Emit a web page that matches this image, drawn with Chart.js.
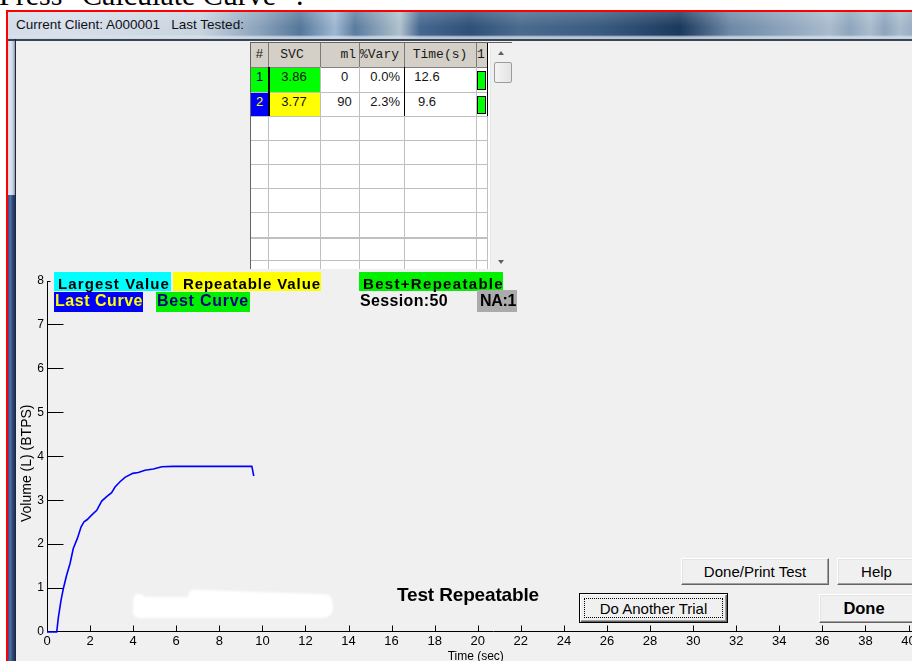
<!DOCTYPE html>
<html>
<head>
<meta charset="utf-8">
<title>SVC Trial</title>
<script src="https://cdn.jsdelivr.net/npm/chart.js@4.4.1/dist/chart.umd.min.js"></script>
<style>
  html, body { margin: 0; padding: 0; }
  body { width: 912px; height: 661px; overflow: hidden; position: relative; background: #fff;
         font-family: "Liberation Sans", Arial, sans-serif; color: #000; }
  .a { position: absolute; box-sizing: border-box; }
  #caption { left: -1px; top: -20px; font: 30px/30px "Liberation Serif", "Times New Roman", serif; white-space: pre; }
  #redTop { left: 6px; top: 10px; width: 906px; height: 2px; background: #ff0000; }
  #redLeft { left: 6px; top: 10px; width: 2px; height: 651px; background: #ff0000; }
  #titlebar { left: 8px; top: 12px; width: 904px; height: 27px;
    background:
      linear-gradient(180deg, rgba(255,255,255,.16) 0, rgba(255,255,255,0) 55%, rgba(255,255,255,0) 85%, rgba(220,230,240,.75) 92%, rgba(200,212,224,.9) 100%),
      linear-gradient(90deg, #d3dce8 0px, #d8e0ea 52px, #c9d4e0 192px, #8aa2bb 252px, #56779a 292px,
        #9fb8d2 327px, #5b7c9f 347px, #b0c2cc 392px, #466790 412px, #2f5078 462px, #4b6b8e 512px,
        #3a5b80 592px, #1b395d 672px, #6e89a6 722px, #8aa2ba 772px, #a9bccd 822px, #8ea5bc 842px,
        #aabdce 862px, #8ea5bc 877px, #a9bccd 892px, #98aec4 904px); }
  #titleText { left: 16px; top: 17px; font-size: 13.5px; line-height: 16px; color: #101018; white-space: pre; }
  #titleEdge { left: 8px; top: 39px; width: 904px; height: 2px; background: #3b4553; }
  #frameTop { left: 8px; top: 39px; width: 7px; height: 156px;
    background: linear-gradient(90deg, #c9d5e3 0, #e2e9f1 30%, #c6d2e0 70%, #8796b2 100%); }
  #frameLow { left: 8px; top: 195px; width: 7px; height: 466px;
    background: linear-gradient(90deg, #35528a 0, #4f6ea4 35%, #2c4a80 65%, #1e3258 100%); }
  #frameLine { left: 15px; top: 39px; width: 1px; height: 622px; background: #1f2838; }
  #content { left: 16px; top: 41px; width: 896px; height: 620px; background: #f0f0f0; }

  #grid { left: 250px; top: 42px; width: 262px; height: 227px; background: #fff; overflow: hidden;
          border-top: 1px solid #646464; border-left: 1px solid #646464; }
  #grid .c { position: absolute; box-sizing: border-box; white-space: pre; }
  #grid .hd { font: 13px "Liberation Mono", "Courier New", monospace; color: #1a1a1a; }
  #grid .dt { font: 13px "Liberation Sans", Arial, sans-serif; color: #151515; }

  .lg { position: absolute; box-sizing: border-box; font-weight: bold; white-space: pre; overflow: visible; }
  .lg span { display: inline-block; }
  .row1 { font-size: 15px; line-height: 19px; height: 19px; padding-top: 2px; }
  .row2 { font-size: 16px; line-height: 18.5px; height: 20px; }

  .btn { position: absolute; box-sizing: border-box; background: #f0f0f0; display: flex; align-items: center;
         justify-content: center; font-size: 15px; white-space: pre;
         border-top: 1px solid #ffffff; border-left: 1px solid #ffffff;
         border-bottom: 1px solid #646464; border-right: 1px solid #646464;
         box-shadow: inset -1px -1px 0 #a0a0a0, inset 1px 1px 0 #e3e3e3; }
  .btn.default { border: 1px solid #000;
         box-shadow: inset 1px 1px 0 #ffffff, inset -1px -1px 0 #646464, inset -2px -2px 0 #a0a0a0; }
  .btn.default::after { content: ""; position: absolute; left: 4px; top: 4px; right: 4px; bottom: 4px;
         border: 1px dotted #000; }
  #status { left: 397px; top: 584px; font: bold 19px/22px "Liberation Sans", Arial, sans-serif; white-space: pre; }
  #chartBox { left: 0; top: 260px; width: 940px; height: 401px; }
  .blot { position: absolute; background: #fff; filter: blur(0.9px); }
</style>
</head>
<body>
<div id="caption" class="a">Press "Calculate Curve" .</div>
<div id="redTop" class="a"></div>
<div id="redLeft" class="a"></div>
<div id="titlebar" class="a"></div>
<div id="titleText" class="a">Current Client: A000001   Last Tested:</div>
<div id="content" class="a"></div>
<div id="frameTop" class="a"></div>
<div id="frameLow" class="a"></div>
<div id="titleEdge" class="a"></div>
<div id="frameLine" class="a"></div>

<div id="chartBox" class="a"><canvas id="svcChart" width="940" height="401"></canvas></div>

<div id="grid" class="a"></div>

<div class="lg row1" style="left:54px;top:272px;width:117px;background:#00ffff;padding-left:4px;"><span data-w="112">Largest Value</span></div>
<div class="lg row1" style="left:173px;top:272px;width:148px;background:#ffff00;padding-left:10px;"><span data-w="138">Repeatable Value</span></div>
<div class="lg row1" style="left:359px;top:272px;width:144px;background:#00f000;padding-left:4px;"><span data-w="141">Best+Repeatable</span></div>
<div class="lg row2" style="left:54px;top:292px;width:89px;background:#0000ff;color:#ffff00;padding-left:1px;"><span data-w="88">Last Curve</span></div>
<div class="lg row2" style="left:156px;top:292px;width:94px;background:#00f000;color:#000080;padding-left:1px;"><span data-w="92">Best Curve</span></div>
<div class="lg row2" style="left:360px;top:292px;"><span data-w="88">Session:50</span></div>
<div class="lg" style="left:477px;top:290px;width:40px;height:22px;background:#ababab;font-size:16px;line-height:22px;padding-left:3px;"><span data-w="36">NA:1</span></div>

<div class="blot" style="left:133px;top:597px;width:200px;height:21px;border-radius:6px 10px 10px 6px;"></div>
<div class="blot" style="left:188px;top:592px;width:144px;height:12px;border-radius:6px;transform:rotate(2deg);"></div>
<div class="blot" style="left:134px;top:594px;width:10px;height:8px;border-radius:4px;"></div>

<div id="status" class="a"><span data-w="142">Test Repeatable</span></div>

<div class="btn" style="left:681px;top:558px;width:148px;height:27px;">Done/Print Test</div>
<div class="btn" style="left:837px;top:558px;width:79px;height:27px;">Help</div>
<div class="btn default" style="left:579px;top:593px;width:149px;height:30px;">Do Another Trial</div>
<div class="btn" style="left:819px;top:594px;width:96px;height:29px;padding-right:6px;font-weight:bold;font-size:16.5px;">Done</div>

<script>
// Trial results table
const tableHeaders = ['#', 'SVC', 'ml', '%Vary', 'Time(s)', '1'];
const trialNumbers = ['1', '2'];
const trialSVC = ['3.86', '3.77'];
const trialML = ['0', '90'];
const trialVary = ['0.0%', '2.3%'];
const trialTime = ['12.6', '9.6'];

// Last curve: exhaled volume (L, BTPS) against time (s)
const curveTime = [0, 0.45, 0.53, 0.65, 0.76, 0.91, 1.07, 1.22, 1.41, 1.58, 1.72, 1.87, 2.07, 2.31,
  2.54, 2.77, 3.00, 3.16, 3.39, 3.62, 3.98, 4.24, 4.55, 4.94, 5.33, 5.87, 9.51, 9.54, 9.6];
const curveVolume = [0, 0, 0.34, 0.72, 0.99, 1.29, 1.56, 1.90, 2.13, 2.39, 2.51, 2.56, 2.66, 2.77,
  2.98, 3.08, 3.17, 3.30, 3.42, 3.52, 3.61, 3.63, 3.68, 3.71, 3.76, 3.77, 3.77, 3.70, 3.55];

// Axis ticks
const timeTicks = [0, 2, 4, 6, 8, 10, 12, 14, 16, 18, 20, 22, 24, 26, 28, 30, 32, 34, 36, 38, 40];
const volumeTicks = [0, 1, 2, 3, 4, 5, 6, 7, 8];

// ---------- table ----------
(function buildGrid() {
  const grid = document.getElementById('grid');
  const colX = [0, 17, 69, 108, 153, 225, 236];
  const rowY = [0, 24, 49, 73, 97, 121, 145, 169, 194, 217, 241];
  const add = (cls, css, text) => {
    const d = document.createElement('div');
    d.className = 'c ' + (cls || '');
    d.style.cssText = css;
    if (text !== undefined) d.textContent = text;
    grid.appendChild(d);
    return d;
  };
  // header band
  add('', `left:0;top:0;width:${colX[6]}px;height:${rowY[1]}px;background:#d4d0c8;`);
  // colored cells of the trial rows
  const numBg = ['#00ff00', '#0000ff'], numFg = ['#000080', '#ffff00'], svcBg = ['#00ff00', '#ffff00'];
  trialNumbers.forEach((n, i) => {
    const t = rowY[i + 1], h = rowY[i + 2] - t;
    add('', `left:${colX[0]}px;top:${t}px;width:${colX[1] - colX[0]}px;height:${h}px;background:${numBg[i]};`);
    add('', `left:${colX[1]}px;top:${t}px;width:${colX[2] - colX[1]}px;height:${h}px;background:${svcBg[i]};`);
  });
  // grid lines
  rowY.forEach((y, i) => {
    if (i === 0) return;
    add('', `left:0;top:${y}px;width:${colX[6]}px;height:${i === 8 ? 2 : 1}px;background:${i === 1 ? '#808080' : '#c0c0c0'};`);
  });
  colX.forEach((x, i) => {
    if (i === 0) return;
    add('', `left:${x}px;top:${rowY[1]}px;width:1px;height:250px;background:#c0c0c0;`);
    add('', `left:${x}px;top:0;width:1px;height:${rowY[1]}px;background:#7a7a7a;`);
  });
  // strong separators along the filled rows
  const filledBottom = rowY[trialNumbers.length + 1];
  add('', `left:${colX[1]}px;top:${rowY[1]}px;width:2px;height:${filledBottom - rowY[1]}px;background:#000;`);
  add('', `left:${colX[4]}px;top:${rowY[1]}px;width:1px;height:${filledBottom - rowY[1]}px;background:#000;`);
  add('', `left:${colX[6]}px;top:0;width:1px;height:${filledBottom}px;background:#000;`);

  // header text
  const hAlign = ['center', 'center', 'right', 'left', 'center', 'left'];
  const hPad = ['', 'padding-right:4px;', 'padding-right:3px;', 'padding-left:1px;', '', 'padding-left:1px;'];
  tableHeaders.forEach((h, i) => {
    add('hd', `left:${colX[i]}px;top:0;width:${colX[i + 1] - colX[i]}px;height:${rowY[1]}px;line-height:${rowY[1]}px;text-align:${hAlign[i]};${hPad[i]}`, h);
  });
  // body text
  trialNumbers.forEach((n, i) => {
    const t = rowY[i + 1], h = rowY[i + 2] - t;
    const lh = `top:${t}px;height:${h}px;line-height:${h - 5}px;`;
    add('dt', `left:${colX[0]}px;width:${colX[1] - colX[0]}px;${lh}text-align:center;color:${numFg[i]};`, n);
    add('dt', `left:${colX[1]}px;width:${colX[2] - colX[1]}px;${lh}text-align:center;`, trialSVC[i]);
    add('dt', `left:${colX[2]}px;width:${colX[3] - colX[2]}px;${lh}text-align:center;padding-left:10px;`, trialML[i]);
    add('dt', `left:${colX[3]}px;width:${colX[4] - colX[3]}px;${lh}text-align:right;padding-right:4px;`, trialVary[i]);
    add('dt', `left:${colX[4]}px;width:${colX[5] - colX[4]}px;${lh}text-align:center;padding-right:26px;`, trialTime[i]);
    // pass indicator bar
    add('', `left:${colX[5] + 1}px;top:${t + 4}px;width:9px;height:${h - 6}px;background:#00ff00;border:1.5px solid #000;`);
  });

  // vertical scrollbar
  add('', `left:239px;top:0;width:23px;height:240px;background:#f0f0f0;border-left:1px solid #e6e6e6;`);
  add('', `left:247px;top:8px;width:0;height:0;border-left:3.5px solid transparent;border-right:3.5px solid transparent;border-bottom:4px solid #606060;`);
  add('', `left:243px;top:19px;width:18px;height:21px;border:1px solid #9c9c9c;border-radius:2px;background:linear-gradient(90deg,#f4f4f4,#e4e4e4);`);
  add('', `left:247px;top:217px;width:0;height:0;border-left:3.5px solid transparent;border-right:3.5px solid transparent;border-top:4px solid #606060;`);
})();

// ---------- stretch label text to its box ----------
document.querySelectorAll('[data-w]').forEach(sp => {
  const target = parseFloat(sp.dataset.w);
  const w = sp.getBoundingClientRect().width;
  const n = sp.textContent.length;
  sp.style.letterSpacing = ((target - w) / n) + 'px';
});

// ---------- chart ----------
const panelAxes = {
  id: 'panelAxes',
  beforeDatasetsDraw(chart) {
    const { ctx, chartArea: a, scales: { x, y } } = chart;
    ctx.save();
    ctx.strokeStyle = '#000';
    ctx.lineWidth = 1;
    const ax = Math.round(a.left) + 0.5;
    const ay = Math.round(a.bottom) - 0.5;
    ctx.beginPath();
    ctx.moveTo(ax, Math.round(a.top));
    ctx.lineTo(ax, ay + 0.5);
    ctx.moveTo(ax - 0.5, ay);
    ctx.lineTo(chart.width, ay);
    volumeTicks.forEach(v => {
      if (v === y.min) return;
      const py = Math.round(y.getPixelForValue(v)) + 0.5;
      const len = v === y.max ? 3 : 16;
      ctx.moveTo(ax - 0.5, py);
      ctx.lineTo(ax + len, py);
    });
    timeTicks.forEach(v => {
      if (v === x.min) return;
      const px = Math.round(x.getPixelForValue(v)) + 0.5;
      ctx.moveTo(px, ay);
      ctx.lineTo(px, ay - 6);
    });
    ctx.stroke();

    // axis titles
    ctx.fillStyle = '#000';
    ctx.textAlign = 'center';
    ctx.textBaseline = 'middle';
    ctx.font = '12px "Liberation Sans", Arial, sans-serif';
    ctx.fillText('Time (sec)', (a.left + a.right) / 2 - 2, a.bottom + 25);
    ctx.translate(a.left - 20, (a.top + a.bottom) / 2 + 7);
    ctx.rotate(-Math.PI / 2);
    ctx.font = '14px "Liberation Sans", Arial, sans-serif';
    ctx.fillText('Volume (L) (BTPS)', 0, 0);
    ctx.restore();
  }
};

new Chart(document.getElementById('svcChart'), {
  type: 'scatter',
  data: {
    datasets: [{
      label: 'Last Curve',
      data: curveTime.map((t, i) => ({ x: t, y: curveVolume[i] })),
      showLine: true,
      borderColor: '#0000ff',
      borderWidth: 1.6,
      pointRadius: 0,
      tension: 0,
      fill: false,
      clip: false
    }]
  },
  options: {
    responsive: false,
    animation: false,
    devicePixelRatio: 1,
    layout: { padding: { left: 0, top: 20.5, right: 31.5, bottom: 0 }, autoPadding: false },
    plugins: { legend: { display: false }, tooltip: { enabled: false } },
    scales: {
      x: {
        type: 'linear', min: 0, max: 40,
        afterBuildTicks: s => { s.ticks = timeTicks.map(v => ({ value: v })); },
        afterFit: s => { s.height = 29; },
        grid: { display: false, drawTicks: false },
        border: { display: false },
        ticks: { padding: 2, color: '#000', autoSkip: false, maxRotation: 0,
                 font: { family: '"Liberation Sans", Arial, sans-serif', size: 13 } }
      },
      y: {
        type: 'linear', min: 0, max: 8,
        afterBuildTicks: s => { s.ticks = volumeTicks.map(v => ({ value: v })); },
        afterFit: s => { s.width = 47; },
        grid: { display: false, drawTicks: false },
        border: { display: false },
        ticks: { padding: 3, color: '#000', autoSkip: false,
                 font: { family: '"Liberation Sans", Arial, sans-serif', size: 12 } }
      }
    }
  },
  plugins: [panelAxes]
});
</script>
</body>
</html>
